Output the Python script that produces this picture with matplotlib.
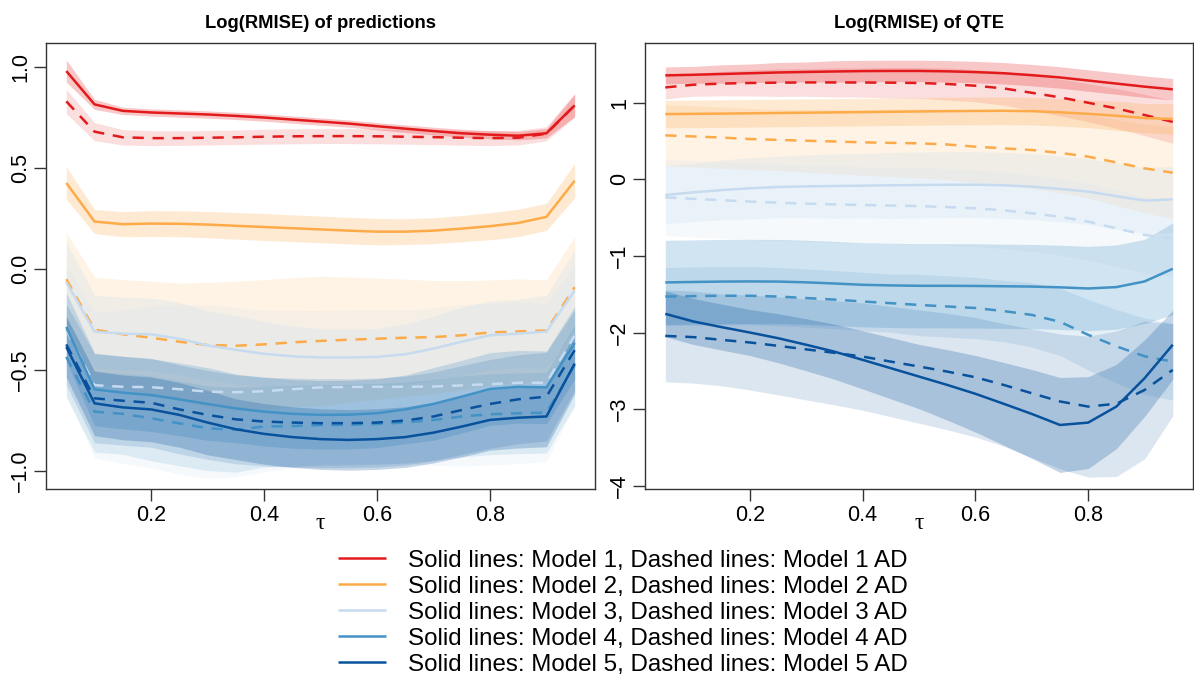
import numpy as np
import matplotlib
matplotlib.use("Agg")
import matplotlib.pyplot as plt
from matplotlib.lines import Line2D

plt.rcParams["font.family"] = ["Liberation Sans", "DejaVu Sans"]

tau = [0.05, 0.10, 0.15, 0.20, 0.25, 0.30, 0.35, 0.40, 0.45, 0.50,
       0.55, 0.60, 0.65, 0.70, 0.75, 0.80, 0.85, 0.90, 0.95]

model_colors = ["#E31A1C", "#FDAA48", "#C6DBEF", "#4292C6", "#08519C"]
legend_labels = [f"Solid lines: Model {k}, Dashed lines: Model {k} AD" for k in range(1, 6)]
titles = ["Log(RMISE) of predictions", "Log(RMISE) of QTE"]

# ---- Log(RMISE) of predictions: mean curves and band half-widths ----
pred_m1 = [0.98, 0.815, 0.783, 0.775, 0.77, 0.765, 0.758, 0.75, 0.74, 0.73,
           0.72, 0.707, 0.695, 0.683, 0.672, 0.665, 0.66, 0.672, 0.81]
pred_m1_hw = [0.055, 0.025, 0.018, 0.018, 0.018, 0.018, 0.018, 0.018, 0.018, 0.018,
              0.018, 0.018, 0.019, 0.019, 0.02, 0.02, 0.021, 0.023, 0.055]
pred_m1ad = [0.83, 0.68, 0.652, 0.648, 0.648, 0.65, 0.652, 0.655, 0.657, 0.658,
             0.658, 0.657, 0.655, 0.653, 0.65, 0.648, 0.65, 0.67, 0.81]
pred_m1ad_hw = [0.06, 0.045, 0.038, 0.037, 0.036, 0.036, 0.036, 0.037, 0.037, 0.037,
                0.037, 0.037, 0.037, 0.037, 0.037, 0.037, 0.036, 0.035, 0.06]
pred_m2 = [0.426, 0.235, 0.222, 0.225, 0.224, 0.22, 0.214, 0.208, 0.202, 0.196,
           0.19, 0.185, 0.185, 0.19, 0.2, 0.212, 0.228, 0.258, 0.437]
pred_m2_hw = [0.08, 0.06, 0.062, 0.064, 0.064, 0.065, 0.066, 0.067, 0.066, 0.066,
              0.066, 0.065, 0.064, 0.064, 0.065, 0.067, 0.068, 0.067, 0.085]
pred_m2ad = [-0.05, -0.30, -0.323, -0.34, -0.36, -0.376, -0.38, -0.373, -0.363, -0.356,
             -0.35, -0.345, -0.34, -0.337, -0.328, -0.314, -0.309, -0.304, -0.09]
pred_m2ad_hw = [0.23, 0.26, 0.27, 0.28, 0.29, 0.31, 0.32, 0.32, 0.32, 0.32,
                0.31, 0.30, 0.29, 0.28, 0.27, 0.26, 0.26, 0.25, 0.25]
pred_m3 = [-0.065, -0.31, -0.32, -0.323, -0.345, -0.378, -0.40, -0.42, -0.432, -0.438,
           -0.438, -0.435, -0.422, -0.394, -0.36, -0.328, -0.32, -0.31, -0.107]
pred_m3_hw = [0.2, 0.18, 0.18, 0.18, 0.18, 0.17, 0.17, 0.16, 0.15, 0.14,
              0.14, 0.14, 0.15, 0.16, 0.17, 0.17, 0.17, 0.18, 0.2]
pred_m3ad = [-0.30, -0.575, -0.583, -0.585, -0.595, -0.607, -0.61, -0.605, -0.595, -0.586,
             -0.584, -0.583, -0.583, -0.582, -0.576, -0.57, -0.563, -0.563, -0.33]
pred_m3ad_hw = [0.32, 0.36, 0.38, 0.40, 0.42, 0.43, 0.42, 0.40, 0.39, 0.38,
                0.38, 0.38, 0.38, 0.39, 0.40, 0.40, 0.40, 0.39, 0.35]
pred_m4 = [-0.287, -0.596, -0.612, -0.624, -0.645, -0.668, -0.69, -0.706, -0.717, -0.722,
           -0.721, -0.714, -0.695, -0.668, -0.632, -0.594, -0.583, -0.586, -0.366]
pred_m4_hw = [0.17, 0.18, 0.18, 0.18, 0.18, 0.18, 0.17, 0.17, 0.17, 0.17,
              0.17, 0.17, 0.17, 0.18, 0.18, 0.18, 0.18, 0.18, 0.18]
pred_m4ad = [-0.435, -0.706, -0.717, -0.739, -0.764, -0.788, -0.796, -0.78, -0.777, -0.773,
             -0.771, -0.767, -0.76, -0.747, -0.73, -0.719, -0.714, -0.711, -0.476]
pred_m4ad_hw = [0.2, 0.2, 0.2, 0.21, 0.21, 0.21, 0.21, 0.2, 0.2, 0.2,
                0.2, 0.2, 0.2, 0.2, 0.2, 0.2, 0.2, 0.2, 0.2]
pred_m5 = [-0.386, -0.665, -0.685, -0.695, -0.722, -0.76, -0.793, -0.816, -0.832, -0.842,
           -0.846, -0.842, -0.832, -0.81, -0.78, -0.747, -0.736, -0.73, -0.468]
pred_m5_hw = [0.15, 0.16, 0.16, 0.16, 0.16, 0.16, 0.15, 0.15, 0.15, 0.15,
              0.15, 0.15, 0.15, 0.15, 0.15, 0.15, 0.15, 0.15, 0.15]
pred_m5ad = [-0.373, -0.64, -0.652, -0.662, -0.695, -0.722, -0.744, -0.755, -0.76, -0.763,
             -0.763, -0.76, -0.75, -0.73, -0.698, -0.668, -0.645, -0.632, -0.402]
pred_m5ad_hw = [0.2, 0.22, 0.22, 0.22, 0.22, 0.22, 0.22, 0.22, 0.22, 0.22,
                0.22, 0.22, 0.22, 0.22, 0.22, 0.22, 0.22, 0.22, 0.2]

# ---- Log(RMISE) of QTE: mean curves and band half-widths ----
qte_m1 = [1.357, 1.365, 1.375, 1.385, 1.395, 1.402, 1.408, 1.413, 1.415, 1.415,
          1.41, 1.40, 1.385, 1.36, 1.33, 1.29, 1.25, 1.21, 1.175]
qte_m1_hw = [0.11, 0.11, 0.12, 0.12, 0.13, 0.13, 0.14, 0.14, 0.14, 0.14,
             0.14, 0.14, 0.14, 0.14, 0.14, 0.14, 0.14, 0.14, 0.14]
qte_m1ad = [1.2, 1.235, 1.25, 1.258, 1.262, 1.265, 1.265, 1.264, 1.262, 1.258,
            1.245, 1.222, 1.187, 1.13, 1.07, 1.0, 0.926, 0.84, 0.75]
qte_m1ad_hw = [0.15, 0.15, 0.16, 0.17, 0.18, 0.18, 0.19, 0.19, 0.2, 0.2,
               0.21, 0.21, 0.22, 0.23, 0.24, 0.25, 0.26, 0.27, 0.28]
qte_m2 = [0.852, 0.855, 0.858, 0.862, 0.866, 0.87, 0.874, 0.878, 0.882, 0.886,
          0.89, 0.893, 0.895, 0.89, 0.875, 0.855, 0.83, 0.80, 0.787]
qte_m2_hw = [0.18, 0.18, 0.18, 0.18, 0.18, 0.18, 0.18, 0.18, 0.18, 0.18,
             0.18, 0.18, 0.18, 0.18, 0.18, 0.18, 0.19, 0.19, 0.2]
qte_m2ad = [0.574, 0.56, 0.545, 0.526, 0.515, 0.504, 0.494, 0.483, 0.476, 0.47,
            0.455, 0.426, 0.405, 0.383, 0.345, 0.296, 0.22, 0.143, 0.087]
qte_m2ad_hw = [0.4, 0.4, 0.4, 0.4, 0.4, 0.41, 0.42, 0.43, 0.44, 0.45,
               0.46, 0.47, 0.48, 0.5, 0.52, 0.54, 0.56, 0.58, 0.6]
qte_m3 = [-0.204, -0.17, -0.14, -0.117, -0.1, -0.092, -0.087, -0.083, -0.078, -0.074,
          -0.071, -0.07, -0.078, -0.096, -0.125, -0.16, -0.22, -0.278, -0.26]
qte_m3_hw = [0.38, 0.38, 0.39, 0.4, 0.4, 0.41, 0.42, 0.42, 0.43, 0.43,
             0.43, 0.43, 0.43, 0.43, 0.43, 0.43, 0.43, 0.43, 0.43]
qte_m3ad = [-0.235, -0.255, -0.272, -0.29, -0.305, -0.318, -0.327, -0.335, -0.342, -0.35,
            -0.362, -0.378, -0.405, -0.443, -0.49, -0.552, -0.64, -0.726, -0.77]
qte_m3ad_hw = [0.5, 0.5, 0.5, 0.5, 0.5, 0.5, 0.5, 0.5, 0.5, 0.5,
               0.5, 0.5, 0.5, 0.5, 0.5, 0.5, 0.5, 0.5, 0.5]
qte_m4 = [-1.346, -1.34, -1.335, -1.333, -1.335, -1.345, -1.36, -1.377, -1.385, -1.39,
          -1.39, -1.392, -1.396, -1.4, -1.41, -1.425, -1.407, -1.333, -1.168]
qte_m4_hw = [0.55, 0.55, 0.55, 0.55, 0.55, 0.55, 0.55, 0.55, 0.55, 0.55,
             0.55, 0.55, 0.55, 0.55, 0.55, 0.55, 0.55, 0.55, 0.6]
qte_m4ad = [-1.53, -1.525, -1.52, -1.52, -1.53, -1.55, -1.57, -1.595, -1.617, -1.64,
            -1.66, -1.68, -1.72, -1.77, -1.86, -2.03, -2.18, -2.31, -2.38]
qte_m4ad_hw = [0.38, 0.38, 0.38, 0.38, 0.38, 0.38, 0.38, 0.38, 0.38, 0.4,
               0.4, 0.4, 0.4, 0.42, 0.44, 0.46, 0.48, 0.5, 0.5]
qte_m5 = [-1.756, -1.856, -1.93, -2.0, -2.074, -2.16, -2.25, -2.357, -2.466, -2.575,
          -2.684, -2.8, -2.93, -3.063, -3.207, -3.176, -2.967, -2.597, -2.16]
qte_m5_hw = [0.3, 0.3, 0.3, 0.3, 0.32, 0.34, 0.36, 0.38, 0.4, 0.42,
             0.46, 0.5, 0.54, 0.58, 0.62, 0.6, 0.55, 0.5, 0.45]
qte_m5ad = [-2.044, -2.06, -2.096, -2.13, -2.174, -2.22, -2.265, -2.314, -2.38, -2.444,
            -2.51, -2.584, -2.684, -2.793, -2.9, -2.967, -2.93, -2.75, -2.488]
qte_m5ad_hw = [0.6, 0.6, 0.6, 0.62, 0.64, 0.66, 0.68, 0.7, 0.72, 0.74,
               0.76, 0.78, 0.8, 0.84, 0.88, 0.92, 0.95, 0.9, 0.6]

pred_series = [(pred_m1, pred_m1_hw, pred_m1ad, pred_m1ad_hw),
               (pred_m2, pred_m2_hw, pred_m2ad, pred_m2ad_hw),
               (pred_m3, pred_m3_hw, pred_m3ad, pred_m3ad_hw),
               (pred_m4, pred_m4_hw, pred_m4ad, pred_m4ad_hw),
               (pred_m5, pred_m5_hw, pred_m5ad, pred_m5ad_hw)]
qte_series = [(qte_m1, qte_m1_hw, qte_m1ad, qte_m1ad_hw),
              (qte_m2, qte_m2_hw, qte_m2ad, qte_m2ad_hw),
              (qte_m3, qte_m3_hw, qte_m3ad, qte_m3ad_hw),
              (qte_m4, qte_m4_hw, qte_m4ad, qte_m4ad_hw),
              (qte_m5, qte_m5_hw, qte_m5ad, qte_m5ad_hw)]

W, H = 1194, 690
fig = plt.figure(figsize=(W / 100, H / 100), dpi=100)
ax_pred = fig.add_axes([0.0385, 0.2913, 0.4598, 0.6464])
ax_qte = fig.add_axes([0.5402, 0.2913, 0.4590, 0.6464])

x = np.array(tau)
LW = 1.8
DASH = (4.5, 3.5)


def draw_panel(ax, series, title, ylim, yticks, yticklabels):
    # uncertainty bands first, then all curves on top
    for col, (m, mhw, ad, adhw) in zip(model_colors, series):
        m, mhw, ad, adhw = map(np.array, (m, mhw, ad, adhw))
        ax.fill_between(x, m - mhw, m + mhw, color=col, alpha=0.24, lw=0)
        ax.fill_between(x, ad - adhw, ad + adhw, color=col, alpha=0.14, lw=0)
    for col, (m, mhw, ad, adhw) in zip(model_colors, series):
        ax.plot(x, m, color=col, lw=LW, solid_capstyle="butt")
        ax.plot(x, ad, color=col, lw=LW, linestyle=(0, DASH), dash_capstyle="butt")
    ax.set_xlim(0.014, 0.986)
    ax.set_ylim(*ylim)
    ax.set_xticks([0.2, 0.4, 0.6, 0.8])
    ax.set_xticklabels(["0.2", "0.4", "0.6", "0.8"])
    ax.set_yticks(yticks)
    ax.set_yticklabels(yticklabels)
    ax.tick_params(axis="both", direction="out", length=8.5, width=1.0,
                   labelsize=15.5, color="#333333")
    ax.tick_params(axis="x", pad=3)
    ax.tick_params(axis="y", pad=2)
    plt.setp(ax.get_yticklabels(), rotation=90, va="center")
    for sp in ax.spines.values():
        sp.set_linewidth(1.0)
        sp.set_color("#333333")
    ax.set_title(title, fontsize=13.2, fontweight="bold", pad=11)
    ax.set_xlabel("τ", fontsize=17, family=["Liberation Serif", "DejaVu Serif"], labelpad=-9)


draw_panel(ax_pred, pred_series, titles[0], (-1.089, 1.119),
           [-1.0, -0.5, 0.0, 0.5, 1.0], ["−1.0", "−0.5", "0.0", "0.5", "1.0"])
draw_panel(ax_qte, qte_series, titles[1], (-4.043, 1.78),
           [-4, -3, -2, -1, 0, 1], ["−4", "−3", "−2", "−1", "0", "1"])

# legend block under the panels: colour key line, then its label
key_x0, key_x1, text_x = 338, 386, 408
row_y0, row_step = 558, 26
for i, (col, lab) in enumerate(zip(model_colors, legend_labels)):
    yf = 1 - (row_y0 + i * row_step) / H
    fig.add_artist(Line2D([key_x0 / W, key_x1 / W], [yf, yf], color=col, lw=LW,
                          transform=fig.transFigure, solid_capstyle="butt"))
    fig.text(text_x / W, yf, lab, fontsize=17.4, ha="left", va="center_baseline")

fig.savefig("out.png", dpi=100)
